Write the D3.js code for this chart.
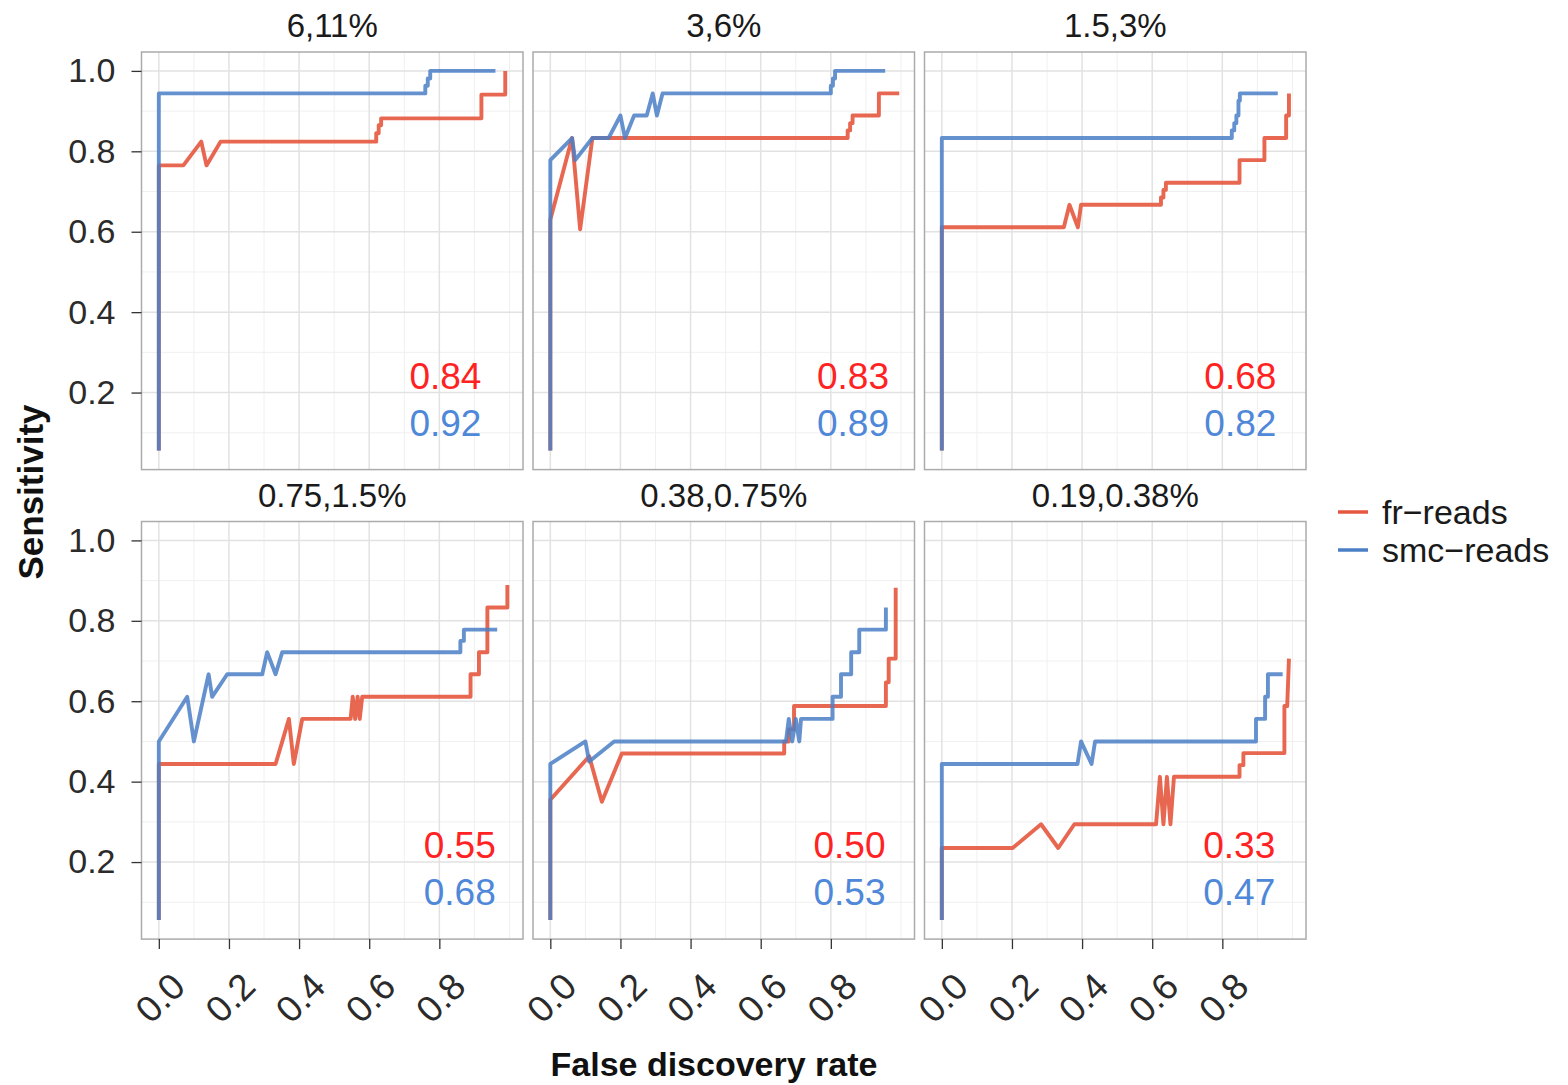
<!DOCTYPE html>
<html><head><meta charset="utf-8">
<script src="https://cdn.jsdelivr.net/npm/d3@7"></script>
<style>
body{margin:0;background:#fff;}
svg{display:block;font-family:"Liberation Sans",Arial,Helvetica,sans-serif;}
</style>
</head><body>
<svg id="chart" width="1568" height="1085"></svg>
<script>
// ---------------- data ----------------
const panelTitles = ["6,11%", "3,6%", "1.5,3%", "0.75,1.5%", "0.38,0.75%", "0.19,0.38%"];
const seriesNames = ["fr\u2212reads", "smc\u2212reads"];

// [false discovery rate, sensitivity]
const fr_6_11 = [[0,0.056],[0,0.765],[0.07,0.765],[0.121,0.824],[0.136,0.765],[0.176,0.824],[0.62,0.824],[0.62,0.845],[0.627,0.845],[0.627,0.865],[0.634,0.865],[0.634,0.882],[0.64,0.882],[0.92,0.882],[0.92,0.941],[0.988,0.941],[0.988,1.0]];
const smc_6_11 = [[0,0.056],[0,0.944],[0.76,0.944],[0.76,0.963],[0.767,0.963],[0.767,0.981],[0.774,0.981],[0.774,1.0],[0.96,1.0]];

const fr_3_6 = [[0,0.056],[0,0.63],[0.062,0.833],[0.085,0.606],[0.12,0.833],[0.848,0.833],[0.848,0.852],[0.855,0.852],[0.855,0.87],[0.862,0.87],[0.862,0.889],[0.937,0.889],[0.937,0.944],[0.995,0.944]];
const smc_3_6 = [[0,0.056],[0,0.778],[0.062,0.833],[0.071,0.778],[0.12,0.833],[0.166,0.833],[0.2,0.889],[0.213,0.833],[0.239,0.889],[0.275,0.889],[0.292,0.944],[0.304,0.889],[0.32,0.944],[0.80,0.944],[0.80,0.963],[0.806,0.963],[0.806,0.981],[0.812,0.981],[0.812,1.0],[0.955,1.0]];

const fr_15_3 = [[0,0.056],[0,0.611],[0.348,0.611],[0.364,0.667],[0.388,0.611],[0.397,0.667],[0.625,0.667],[0.625,0.685],[0.632,0.685],[0.632,0.704],[0.639,0.704],[0.639,0.722],[0.646,0.722],[0.849,0.722],[0.849,0.778],[0.92,0.778],[0.92,0.833],[0.982,0.833],[0.982,0.889],[0.99,0.889],[0.99,0.944]];
const smc_15_3 = [[0,0.056],[0,0.833],[0.827,0.833],[0.827,0.852],[0.834,0.852],[0.834,0.87],[0.84,0.87],[0.84,0.889],[0.846,0.889],[0.846,0.926],[0.85,0.926],[0.85,0.944],[0.958,0.944]];

const fr_075_15 = [[0,0.056],[0,0.444],[0.333,0.444],[0.371,0.556],[0.385,0.444],[0.409,0.556],[0.547,0.556],[0.553,0.611],[0.56,0.556],[0.567,0.611],[0.573,0.556],[0.58,0.611],[0.889,0.611],[0.889,0.667],[0.913,0.667],[0.913,0.722],[0.937,0.722],[0.937,0.833],[0.994,0.833],[0.994,0.889]];
const smc_075_15 = [[0,0.056],[0,0.5],[0.081,0.611],[0.10,0.5],[0.142,0.667],[0.152,0.611],[0.195,0.667],[0.295,0.667],[0.309,0.722],[0.333,0.667],[0.352,0.722],[0.86,0.722],[0.86,0.75],[0.87,0.75],[0.87,0.778],[0.965,0.778]];

const fr_038_075 = [[0,0.056],[0,0.355],[0.111,0.463],[0.147,0.35],[0.204,0.47],[0.667,0.47],[0.667,0.5],[0.68,0.5],[0.68,0.53],[0.695,0.53],[0.695,0.588],[0.957,0.588],[0.957,0.647],[0.965,0.647],[0.965,0.706],[0.985,0.706],[0.985,0.882]];
const smc_038_075 = [[0,0.056],[0,0.444],[0.10,0.5],[0.111,0.45],[0.182,0.5],[0.672,0.5],[0.68,0.556],[0.69,0.5],[0.70,0.556],[0.71,0.5],[0.715,0.556],[0.805,0.556],[0.805,0.611],[0.829,0.611],[0.829,0.667],[0.858,0.667],[0.858,0.722],[0.881,0.722],[0.881,0.778],[0.957,0.778],[0.957,0.833]];

const fr_019_038 = [[0,0.056],[0,0.235],[0.202,0.235],[0.283,0.294],[0.332,0.235],[0.378,0.294],[0.611,0.294],[0.622,0.412],[0.632,0.294],[0.642,0.412],[0.652,0.294],[0.662,0.412],[0.849,0.412],[0.849,0.441],[0.86,0.441],[0.86,0.471],[0.977,0.471],[0.977,0.588],[0.985,0.588],[0.99,0.706]];
const smc_019_038 = [[0,0.056],[0,0.444],[0.387,0.444],[0.397,0.5],[0.427,0.444],[0.437,0.5],[0.896,0.5],[0.896,0.556],[0.922,0.556],[0.922,0.611],[0.93,0.611],[0.93,0.667],[0.972,0.667]];

const frSeries  = [fr_6_11, fr_3_6, fr_15_3, fr_075_15, fr_038_075, fr_019_038];
const smcSeries = [smc_6_11, smc_3_6, smc_15_3, smc_075_15, smc_038_075, smc_019_038];

const aucFr  = ["0.84", "0.83", "0.68", "0.55", "0.50", "0.33"];
const aucSmc = ["0.92", "0.89", "0.82", "0.68", "0.53", "0.47"];
const aucLabelX = [0.92, 0.966, 0.954, 0.961, 0.956, 0.951];

const xTicks = [0, 0.2, 0.4, 0.6, 0.8];
const xMinor = [0.1, 0.3, 0.5, 0.7, 0.9, 1.0];
const yTicks = [0.2, 0.4, 0.6, 0.8, 1.0];
const yMinor = [0.1, 0.3, 0.5, 0.7, 0.9];

// ---------------- layout / style ----------------
const colors = {fr: "#E4573E", smc: "#4A7FC6", aucFr: "#FF2222", aucSmc: "#4F88D8"};
const panelW = 381.5, panelH = 417.6;
const colLeft = c => 141.5 + c * 391.5;
const rowTop = r => 52 + r * 469.5;

const x = d3.scaleLinear().domain([-0.0494, 1.0386]).range([0, panelW]);
const y = d3.scaleLinear().domain([0.0084, 1.047]).range([panelH, 0]);

const svg = d3.select("#chart");
const line = d3.line().x(d => x(d[0])).y(d => y(d[1]));

panelTitles.forEach((title, i) => {
  const c = i % 3, r = Math.floor(i / 3);
  const g = svg.append("g").attr("transform", `translate(${colLeft(c)},${rowTop(r)})`);

  g.append("rect").attr("width", panelW).attr("height", panelH).attr("fill", "#fff");

  // minor grid
  g.selectAll(".vmin").data(xMinor).join("line")
    .attr("x1", d => x(d)).attr("x2", d => x(d)).attr("y1", 0).attr("y2", panelH)
    .attr("stroke", "#f0f0f0").attr("stroke-width", 1);
  g.selectAll(".hmin").data(yMinor).join("line")
    .attr("y1", d => y(d)).attr("y2", d => y(d)).attr("x1", 0).attr("x2", panelW)
    .attr("stroke", "#f0f0f0").attr("stroke-width", 1);
  // major grid
  g.selectAll(".vmaj").data(xTicks).join("line")
    .attr("x1", d => x(d)).attr("x2", d => x(d)).attr("y1", 0).attr("y2", panelH)
    .attr("stroke", "#e2e2e2").attr("stroke-width", 1.5);
  g.selectAll(".hmaj").data(yTicks).join("line")
    .attr("y1", d => y(d)).attr("y2", d => y(d)).attr("x1", 0).attr("x2", panelW)
    .attr("stroke", "#e2e2e2").attr("stroke-width", 1.5);

  // series
  g.append("path").datum(frSeries[i]).attr("d", line)
    .attr("fill", "none").attr("stroke", colors.fr).attr("stroke-width", 3.9)
    .attr("stroke-opacity", 0.9).attr("stroke-linejoin", "round");
  g.append("path").datum(smcSeries[i]).attr("d", line)
    .attr("fill", "none").attr("stroke", colors.smc).attr("stroke-width", 3.9)
    .attr("stroke-opacity", 0.85).attr("stroke-linejoin", "round");

  // border
  g.append("rect").attr("width", panelW).attr("height", panelH)
    .attr("fill", "none").attr("stroke", "#ababab").attr("stroke-width", 1.5);

  // AUC labels
  g.append("text").attr("x", x(aucLabelX[i])).attr("y", y(0.21))
    .attr("text-anchor", "end").attr("font-size", 37).attr("fill", colors.aucFr).text(aucFr[i]);
  g.append("text").attr("x", x(aucLabelX[i])).attr("y", y(0.093))
    .attr("text-anchor", "end").attr("font-size", 37).attr("fill", colors.aucSmc).text(aucSmc[i]);

  // strip title
  g.append("text").attr("x", panelW / 2).attr("y", -15)
    .attr("text-anchor", "middle").attr("font-size", 33).attr("fill", "#1a1a1a").text(title);

  // y axis on left column
  if (c === 0) {
    const ax = g.append("g").call(d3.axisLeft(y).tickValues(yTicks).tickSize(10).tickPadding(16).tickFormat(d3.format(".1f")));
    ax.select(".domain").remove();
    ax.selectAll(".tick line").attr("stroke", "#333").attr("stroke-width", 1.3);
    ax.selectAll(".tick text").attr("font-size", 34).attr("fill", "#2b2b2b")
      .attr("font-family", "'Liberation Sans',Arial,sans-serif");
  }
  // x axis on bottom row
  if (r === 1) {
    const ax = g.append("g").attr("transform", `translate(0,${panelH})`)
      .call(d3.axisBottom(x).tickValues(xTicks).tickSize(10).tickFormat(d3.format(".1f")));
    ax.select(".domain").remove();
    ax.selectAll(".tick line").attr("stroke", "#333").attr("stroke-width", 1.3);
    ax.selectAll(".tick text")
      .attr("y", null).attr("dy", null)
      .attr("transform", "translate(1,59) rotate(-45)")
      .attr("text-anchor", "middle").attr("dominant-baseline", "central")
      .attr("font-size", 37).attr("fill", "#2b2b2b")
      .attr("font-family", "'Liberation Sans',Arial,sans-serif");
  }
});

// axis titles
svg.append("text").attr("transform", "translate(43,492) rotate(-90)")
  .attr("text-anchor", "middle").attr("font-size", 35).attr("font-weight", "bold")
  .attr("fill", "#111").text("Sensitivity");
svg.append("text").attr("x", 714).attr("y", 1076)
  .attr("text-anchor", "middle").attr("font-size", 34).attr("font-weight", "bold")
  .attr("fill", "#111").text("False discovery rate");

// legend
const legend = svg.append("g").attr("transform", "translate(1338,512)");
[colors.fr, colors.smc].forEach((col, k) => {
  const lg = legend.append("g").attr("transform", `translate(0,${k * 38})`);
  lg.append("line").attr("x1", 0).attr("x2", 30).attr("y1", 0).attr("y2", 0)
    .attr("stroke", col).attr("stroke-width", 3.5);
  lg.append("text").attr("x", 44).attr("y", 0).attr("dy", "0.35em")
    .attr("font-size", 34).attr("fill", "#1a1a1a").text(seriesNames[k]);
});
</script>
</body></html>
